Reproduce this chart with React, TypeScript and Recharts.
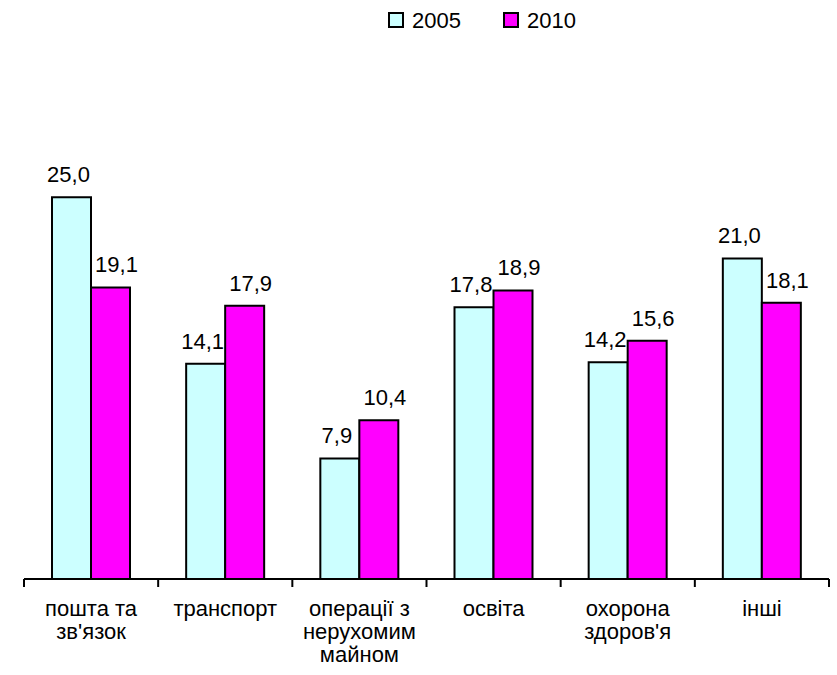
import { Bar, BarChart, LabelList, XAxis, YAxis } from 'recharts';

const categories = [
    ['пошта та', "зв'язок"],
    ['транспорт'],
    ['операції з', 'нерухомим', 'майном'],
    ['освіта'],
    ['охорона', "здоров'я"],
    ['інші'],
];
const values2005 = [25.0, 14.1, 7.9, 17.8, 14.2, 21.0];
const values2010 = [19.1, 17.9, 10.4, 18.9, 15.6, 18.1];
const seriesNames = ['2005', '2010'];
const seriesColors = ['#CCFFFF', '#FF00FF'];

const W = 837;
const H = 675;
const ML = 24;
const MR = 8;
const FONT = '"Liberation Sans", Arial, sans-serif';
const FS = 22;

const data = categories.map((lines, i) => ({
    name: lines.join(' '),
    lines,
    y2005: values2005[i],
    y2010: values2010[i],
}));

const band = (W - ML - MR) / categories.length;

function CategoryTick(props: any) {
    const { x, y, index } = props;
    const lines = categories[index] || [];
    return (
        <g>
            <line x1={x - band / 2} x2={x - band / 2} y1={y} y2={y + 8} stroke="#000" strokeWidth={2} />
            {index === categories.length - 1 && (
                <line x1={x + band / 2} x2={x + band / 2} y1={y} y2={y + 8} stroke="#000" strokeWidth={2} />
            )}
            {lines.map((t: string, k: number) => (
                <text
                    key={k}
                    x={x}
                    y={y + 37 + k * 23}
                    textAnchor="middle"
                    fontFamily={FONT}
                    fontSize={FS}
                    fill="#000"
                >
                    {t}
                </text>
            ))}
        </g>
    );
}

const valueLabel = (dx: number) => (props: any) => {
    const { x, y, width, value } = props;
    return (
        <text
            x={x + width / 2 + dx}
            y={y - 15}
            textAnchor="middle"
            fontFamily={FONT}
            fontSize={FS}
            fill="#000"
        >
            {Number(value).toFixed(1).replace('.', ',')}
        </text>
    );
};

const legendX = [389, 504];

export default function App() {
    return (
        <div style={{ position: 'absolute', left: 0, top: 0, width: W, height: H, background: '#fff' }}>
            <svg width={W} height={40} style={{ position: 'absolute', left: 0, top: 0 }}>
                {seriesNames.map((n, i) => (
                    <g key={n}>
                        <rect
                            x={legendX[i]}
                            y={13}
                            width={14}
                            height={14}
                            fill={seriesColors[i]}
                            stroke="#000"
                            strokeWidth={2}
                        />
                        <text x={legendX[i] + 23} y={28} fontFamily={FONT} fontSize={FS} fill="#000">
                            {n}
                        </text>
                    </g>
                ))}
            </svg>
            <BarChart
                width={W}
                height={H}
                data={data}
                margin={{ top: 121, right: MR, left: ML, bottom: 0 }}
                barSize={39}
                barGap={0}
            >
                <YAxis hide domain={[0, 30]} />
                <XAxis
                    dataKey="name"
                    height={96}
                    tickLine={false}
                    tickSize={0}
                    tickMargin={0}
                    interval={0}
                    axisLine={{ stroke: '#000', strokeWidth: 2 }}
                    tick={<CategoryTick />}
                />
                <Bar dataKey="y2005" fill={seriesColors[0]} stroke="#000" strokeWidth={2} isAnimationActive={false}>
                    <LabelList dataKey="y2005" content={valueLabel(-3)} />
                </Bar>
                <Bar dataKey="y2010" fill={seriesColors[1]} stroke="#000" strokeWidth={2} isAnimationActive={false}>
                    <LabelList dataKey="y2010" content={valueLabel(6)} />
                </Bar>
            </BarChart>
        </div>
    );
}
